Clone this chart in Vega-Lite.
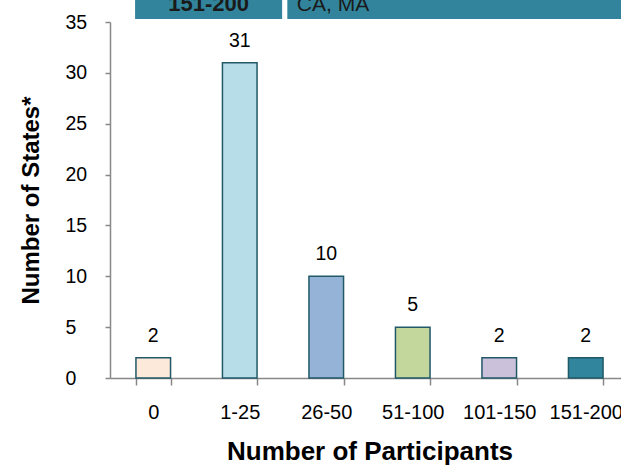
{
  "$schema": "https://vega.github.io/schema/vega-lite/v6.json",
  "autosize": "none",
  "width": 519,
  "height": 356,
  "padding": {"left": 110, "top": 22, "right": 0, "bottom": 87},
  "background": "white",
  "config": {
    "font": "Liberation Sans",
    "view": {"stroke": null}
  },
  "datasets": {
    "bars": [
      {"participants": "0", "states": 2, "color": "#FDE9D9"},
      {"participants": "1-25", "states": 31, "color": "#B7DEE8"},
      {"participants": "26-50", "states": 10, "color": "#95B3D7"},
      {"participants": "51-100", "states": 5, "color": "#C3D69B"},
      {"participants": "101-150", "states": 2, "color": "#CCC1DA"},
      {"participants": "151-200", "states": 2, "color": "#31859C"}
    ],
    "header": [
      {"text": "151-200", "start": 0.29, "end": 1.99, "mid": 1.14, "weight": "bold"},
      {"text": "CA, MA", "start": 2.05, "end": 6.2, "mid": 2.16, "weight": "normal"}
    ]
  },
  "layer": [
    {
      "data": {"name": "bars"},
      "layer": [
        {
          "mark": {"type": "bar", "stroke": "#215968", "strokeWidth": 1.5},
          "encoding": {
            "x": {
              "field": "participants", "type": "nominal", "sort": null,
              "scale": {"paddingInner": 0.6, "paddingOuter": 0.3},
              "axis": {
                "title": "Number of Participants",
                "titleFontSize": 26, "titleFontWeight": "bold", "titleColor": "#000",
                "titlePadding": 16,
                "labelAngle": 0, "labelFontSize": 20, "labelColor": "#000",
                "labelPadding": 17,
                "tickBand": "extent", "tickSize": 7, "tickColor": "#888", "tickWidth": 1.5,
                "domainColor": "#888", "domainWidth": 1.5,
                "labelOverlap": false
              }
            },
            "y": {
              "field": "states", "type": "quantitative",
              "scale": {"domain": [0, 35]},
              "axis": {
                "title": "Number of States*",
                "titleFontSize": 24, "titleFontWeight": "bold", "titleColor": "#000",
                "titlePadding": 22,
                "values": [0, 5, 10, 15, 20, 25, 30, 35],
                "labelFontSize": 19.5, "labelColor": "#000", "labelPadding": 40,
                "labelAlign": "left",
                "tickSize": 5, "tickColor": "#888", "tickWidth": 1.5,
                "domainColor": "#888", "domainWidth": 1.5,
                "grid": false
              }
            },
            "fill": {"field": "color", "type": "nominal", "scale": null, "legend": null}
          }
        },
        {
          "mark": {"type": "text", "baseline": "bottom", "dy": -12, "fontSize": 19.5, "color": "#000"},
          "encoding": {
            "x": {"field": "participants", "type": "nominal", "sort": null},
            "y": {"field": "states", "type": "quantitative"},
            "text": {"field": "states", "type": "quantitative"}
          }
        }
      ]
    },
    {
      "data": {"name": "header"},
      "layer": [
        {
          "mark": {"type": "rect", "fill": "#31849B", "clip": false},
          "encoding": {
            "x": {"field": "start", "type": "quantitative", "scale": {"domain": [0, 6]}, "axis": null},
            "x2": {"field": "end"},
            "y": {"datum": 35.3, "type": "quantitative", "scale": {"domain": [0, 35]}},
            "y2": {"datum": 38}
          }
        },
        {
          "mark": {"type": "text", "fontSize": 21, "baseline": "alphabetic", "align": "left", "color": "#1a1a1a", "clip": false},
          "transform": [{"filter": "datum.weight == 'normal'"}],
          "encoding": {
            "x": {"field": "mid", "type": "quantitative", "scale": {"domain": [0, 6]}, "axis": null},
            "y": {"datum": 36.1, "type": "quantitative"},
            "text": {"field": "text"}
          }
        },
        {
          "mark": {"type": "text", "fontSize": 22, "fontWeight": "bold", "baseline": "alphabetic", "align": "center", "color": "#1a1a1a", "clip": false},
          "transform": [{"filter": "datum.weight == 'bold'"}],
          "encoding": {
            "x": {"field": "mid", "type": "quantitative", "scale": {"domain": [0, 6]}, "axis": null},
            "y": {"datum": 36.1, "type": "quantitative"},
            "text": {"field": "text"}
          }
        }
      ],
      "resolve": {"scale": {"x": "shared"}}
    }
  ],
  "resolve": {"scale": {"x": "independent"}}
}
